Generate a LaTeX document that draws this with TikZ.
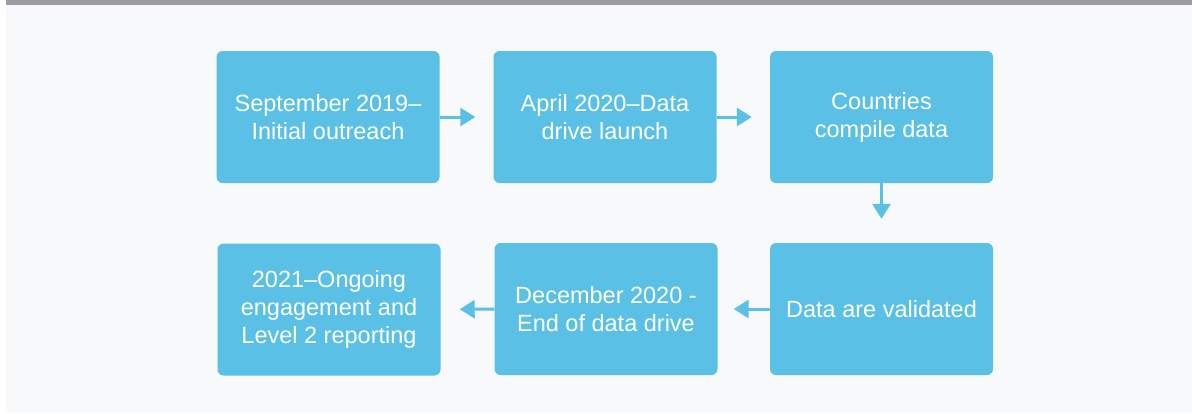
\documentclass[tikz,border=0pt]{standalone}
\usepackage{fontspec}
\setmainfont{Liberation Sans}
\usetikzlibrary{arrows.meta}
\definecolor{boxblue}{HTML}{5BC0E5}
\definecolor{bgc}{HTML}{F8F9FB}
\definecolor{barc}{HTML}{9D9DA1}
\begin{document}
\begin{tikzpicture}[x=1pt,y=-1pt,
  stepbox/.style={fill=boxblue, draw=none, rounded corners=6pt, minimum width=223pt, minimum height=132pt, text=white, align=center, inner sep=0pt, font=\fontsize{23.5pt}{28pt}\selectfont},
  flow/.style={draw=boxblue, line width=3pt, -{Triangle[length=15pt,width=18pt]}}]
\useasboundingbox (0,0) rectangle (1192,413);
\fill[white] (0,0) rectangle (1192,413);
\fill[bgc] (6,0) rectangle (1192,413);
\fill[barc] (6,0) rectangle (1192,5);
\node[stepbox] (b1) at (328,117) {September 2019–\\Initial outreach};
\node[stepbox] (b2) at (605,117) {April 2020–Data\\drive launch};
\node[stepbox] (b3) at (881.5,117) {Countries\\compile data};
\node[stepbox] (b4) at (881.5,309) {Data are validated};
\node[stepbox] (b5) at (606,309) {December 2020 -\\End of data drive};
\node[stepbox] (b6) at (329,309.5) {2021–Ongoing\\engagement and\\Level 2 reporting};
\draw[flow, shorten >=18pt] (b1.east) -- (b2.west);
\draw[flow, shorten >=18pt] (b2.east) -- (b3.west);
\draw[flow, shorten >=24pt] (b3.south) -- (b4.north);
\draw[flow, shorten >=16pt] (b4.west) -- (b5.east);
\draw[flow, shorten >=19pt] (b5.west) -- (b6.east);
\end{tikzpicture}
\end{document}
